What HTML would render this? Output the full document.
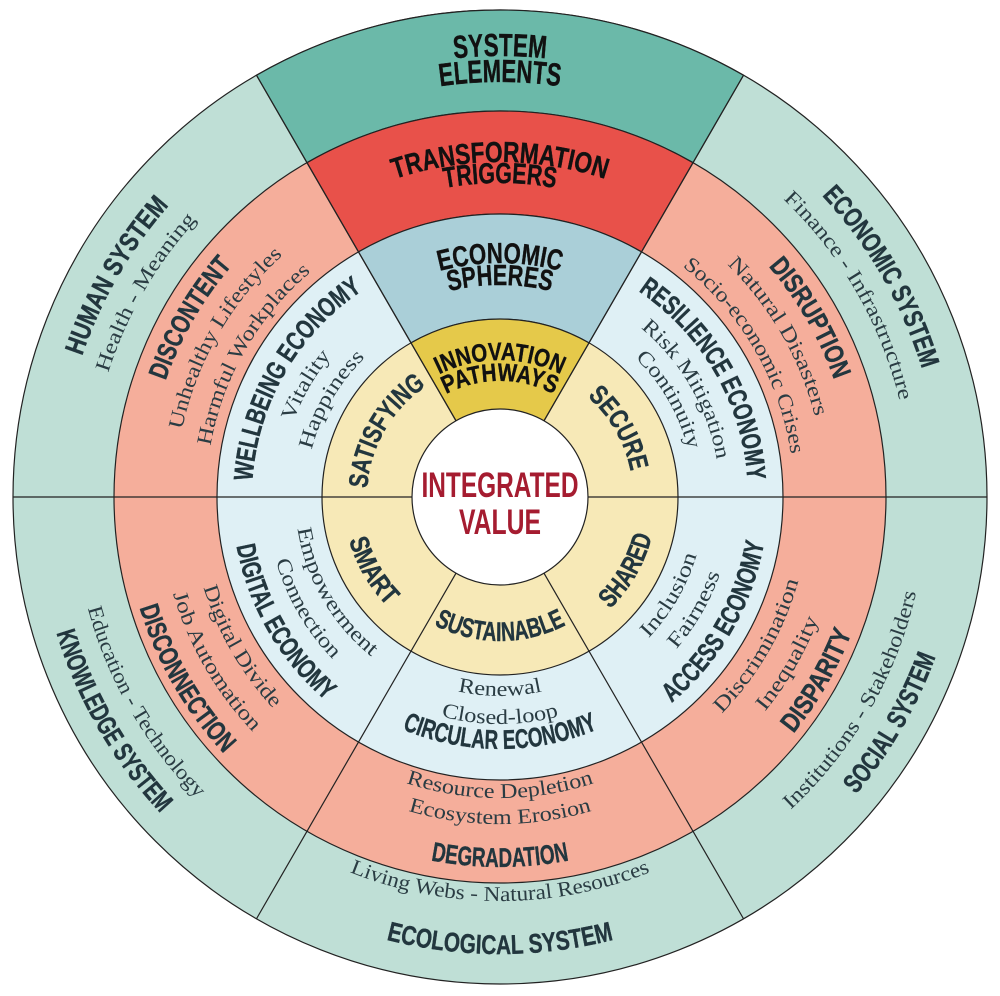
<!DOCTYPE html>
<html><head><meta charset="utf-8">
<style>
html,body{margin:0;padding:0;background:#fff;width:1000px;height:996px;overflow:hidden}
svg{display:block}
.t{font-family:"Liberation Sans Narrow","Liberation Sans",sans-serif;font-weight:bold;fill:#22363e;font-size:27px;stroke:#22363e;stroke-width:0.4}
.k{fill:#111;stroke:#111}
.s{font-family:"Liberation Serif",serif;fill:#2a3c43;font-size:21px}
.c{font-family:"Liberation Sans Narrow","Liberation Sans",sans-serif;font-weight:bold;fill:#a51c30;font-size:35px}
</style></head><body>
<svg width="1000" height="996" viewBox="0 0 1000 996" xmlns="http://www.w3.org/2000/svg">
<defs>
<path id="a1" d="M118.1,276.5 A441,441 0 0 1 881.9,276.5"/>
<path id="a2" d="M140.6,289.5 A415,415 0 0 1 859.4,289.5"/>
<path id="a3" d="M209.9,329.5 A335,335 0 0 1 790.1,329.5"/>
<path id="a4" d="M228.1,340 A314,314 0 0 1 771.9,340"/>
<path id="a5" d="M297.4,380 A234,234 0 0 1 702.6,380"/>
<path id="a6" d="M316.4,391 A212,212 0 0 1 683.6,391"/>
<path id="a7" d="M381.4,428.5 A137,137 0 0 1 618.6,428.5"/>
<path id="a8" d="M399.5,439 A116,116 0 0 1 600.5,439"/>
<path id="l1" d="M118.1,717.5 A441,441 0 0 1 500,56"/>
<path id="l2" d="M144.1,702.5 A411,411 0 0 1 500,86"/>
<path id="l3" d="M193.4,674 A354,354 0 0 1 500,143"/>
<path id="l4" d="M218.5,659.5 A325,325 0 0 1 500,172"/>
<path id="l5" d="M245.4,644 A294,294 0 0 1 500,203"/>
<path id="l6" d="M285.2,621 A248,248 0 0 1 500,249"/>
<path id="l7" d="M309.5,607 A220,220 0 0 1 500,277"/>
<path id="l8" d="M332,594 A194,194 0 0 1 500,303"/>
<path id="l9" d="M384.8,563.5 A133,133 0 0 1 500,364"/>
<path id="r1" d="M500,56 A441,441 0 0 1 881.9,717.5"/>
<path id="r2" d="M500,86 A411,411 0 0 1 855.9,702.5"/>
<path id="r3" d="M500,143 A354,354 0 0 1 806.6,674"/>
<path id="r4" d="M500,172 A325,325 0 0 1 781.5,659.5"/>
<path id="r5" d="M500,203 A294,294 0 0 1 754.6,644"/>
<path id="r6" d="M500,249 A248,248 0 0 1 714.8,621"/>
<path id="r7" d="M500,277 A220,220 0 0 1 690.5,607"/>
<path id="r8" d="M500,303 A194,194 0 0 1 668,594"/>
<path id="r9" d="M500,364 A133,133 0 0 1 615.2,563.5"/>
<path id="m1" d="M98.2,265 A464,464 0 0 0 500,961"/>
<path id="m2" d="M130.2,283.5 A427,427 0 0 0 500,924"/>
<path id="m3" d="M173.5,308.5 A377,377 0 0 0 500,874"/>
<path id="m4" d="M204.7,326.5 A341,341 0 0 0 500,838"/>
<path id="m5" d="M231.5,342 A310,310 0 0 0 500,807"/>
<path id="m6" d="M267.9,363 A268,268 0 0 0 500,765"/>
<path id="m7" d="M298.2,380.5 A233,233 0 0 0 500,730"/>
<path id="m8" d="M322.5,394.5 A205,205 0 0 0 500,702"/>
<path id="m9" d="M364,418.5 A157,157 0 0 0 500,654"/>
<path id="n1" d="M500,961 A464,464 0 0 0 901.8,265"/>
<path id="n2" d="M500,924 A427,427 0 0 0 869.8,283.5"/>
<path id="n3" d="M500,874 A377,377 0 0 0 826.5,308.5"/>
<path id="n4" d="M500,838 A341,341 0 0 0 795.3,326.5"/>
<path id="n5" d="M500,807 A310,310 0 0 0 768.5,342"/>
<path id="n6" d="M500,765 A268,268 0 0 0 732.1,363"/>
<path id="n7" d="M500,730 A233,233 0 0 0 701.8,380.5"/>
<path id="n8" d="M500,702 A205,205 0 0 0 677.5,394.5"/>
<path id="n9" d="M500,654 A157,157 0 0 0 636,418.5"/>
<path id="b1" d="M104.2,725.5 A457,457 0 0 0 895.8,725.5"/>
<path id="b2" d="M150.1,699 A404,404 0 0 0 849.9,699"/>
<path id="b3" d="M179.6,682 A370,370 0 0 0 820.4,682"/>
<path id="b4" d="M216.8,660.5 A327,327 0 0 0 783.2,660.5"/>
<path id="b5" d="M239.3,647.5 A301,301 0 0 0 760.7,647.5"/>
<path id="b6" d="M281.8,623 A252,252 0 0 0 718.2,623"/>
<path id="b7" d="M303.4,610.5 A227,227 0 0 0 696.6,610.5"/>
<path id="b8" d="M327.7,596.5 A199,199 0 0 0 672.3,596.5"/>
<path id="b9" d="M375.3,569 A144,144 0 0 0 624.7,569"/>
</defs>

<g stroke="#222" stroke-width="1.2">
<circle cx="500" cy="497" r="487" fill="#bfdfd6"/>
<path d="M500,497 L256.5,75.25 A487,487 0 0 1 743.5,75.25 Z" fill="#6bb9a9"/>
<circle cx="500" cy="497" r="386" fill="#f5ae9b"/>
<path d="M500,497 L307,162.7 A386,386 0 0 1 693,162.7 Z" fill="#e8514a"/>
<circle cx="500" cy="497" r="283" fill="#dff0f5"/>
<path d="M500,497 L358.5,251.9 A283,283 0 0 1 641.5,251.9 Z" fill="#aacfd8"/>
<circle cx="500" cy="497" r="178" fill="#f7e9b7"/>
<path d="M500,497 L411,342.9 A178,178 0 0 1 589,342.9 Z" fill="#e5c94a"/>
<circle cx="500" cy="497" r="88" fill="#fff"/>
<line x1="544" y1="420.8" x2="743.5" y2="75.25"/>
<line x1="456" y1="420.8" x2="256.5" y2="75.25"/>
<line x1="588" y1="497" x2="987" y2="497"/>
<line x1="412" y1="497" x2="13" y2="497"/>
<line x1="544" y1="573.2" x2="743.5" y2="918.75"/>
<line x1="456" y1="573.2" x2="256.5" y2="918.75"/>
</g>

<g text-anchor="middle">
<text class="t k" style="font-size:32px"><textPath href="#a1" startOffset="50%" textLength="92" lengthAdjust="spacingAndGlyphs">SYSTEM</textPath></text>
<text class="t k" style="font-size:32px"><textPath href="#a2" startOffset="50%" textLength="120" lengthAdjust="spacingAndGlyphs">ELEMENTS</textPath></text>
<text class="t k" style="font-size:29px"><textPath href="#a3" startOffset="50%" textLength="214" lengthAdjust="spacingAndGlyphs">TRANSFORMATION</textPath></text>
<text class="t k" style="font-size:29px"><textPath href="#a4" startOffset="50%" textLength="111" lengthAdjust="spacingAndGlyphs">TRIGGERS</textPath></text>
<text class="t k" style="font-size:29px"><textPath href="#a5" startOffset="50%" textLength="122" lengthAdjust="spacingAndGlyphs">ECONOMIC</textPath></text>
<text class="t k" style="font-size:29px"><textPath href="#a6" startOffset="50%" textLength="103" lengthAdjust="spacingAndGlyphs">SPHERES</textPath></text>
<text class="t k" style="font-size:25px"><textPath href="#a7" startOffset="50%" textLength="126" lengthAdjust="spacingAndGlyphs">INNOVATION</textPath></text>
<text class="t k" style="font-size:25px"><textPath href="#a8" startOffset="50%" textLength="112" lengthAdjust="spacingAndGlyphs">PATHWAYS</textPath></text>

<text class="t"><textPath href="#l1" startOffset="50%" textLength="175" lengthAdjust="spacingAndGlyphs">HUMAN SYSTEM</textPath></text>
<text class="s"><textPath href="#l2" startOffset="50%" textLength="178" lengthAdjust="spacingAndGlyphs">Health - Meaning</textPath></text>
<text class="t"><textPath href="#l3" startOffset="50%" textLength="134" lengthAdjust="spacingAndGlyphs">DISCONTENT</textPath></text>
<text class="s"><textPath href="#l4" startOffset="50%" textLength="205" lengthAdjust="spacingAndGlyphs">Unhealthy Lifestyles</textPath></text>
<text class="s"><textPath href="#l5" startOffset="50%" textLength="205" lengthAdjust="spacingAndGlyphs">Harmful Workplaces</textPath></text>
<text class="t"><textPath href="#l6" startOffset="50%" textLength="228" lengthAdjust="spacingAndGlyphs">WELLBEING ECONOMY</textPath></text>
<text class="s"><textPath href="#l7" startOffset="50%" textLength="76" lengthAdjust="spacingAndGlyphs">Vitality</textPath></text>
<text class="s"><textPath href="#l8" startOffset="50%" textLength="108" lengthAdjust="spacingAndGlyphs">Happiness</textPath></text>
<text class="t"><textPath href="#l9" startOffset="50%" textLength="122" lengthAdjust="spacingAndGlyphs">SATISFYING</textPath></text>

<text class="t"><textPath href="#r1" startOffset="50%" textLength="202" lengthAdjust="spacingAndGlyphs">ECONOMIC SYSTEM</textPath></text>
<text class="s"><textPath href="#r2" startOffset="50%" textLength="236" lengthAdjust="spacingAndGlyphs">Finance - Infrastructure</textPath></text>
<text class="t"><textPath href="#r3" startOffset="50%" textLength="132" lengthAdjust="spacingAndGlyphs">DISRUPTION</textPath></text>
<text class="s"><textPath href="#r4" startOffset="50%" textLength="178" lengthAdjust="spacingAndGlyphs">Natural Disasters</textPath></text>
<text class="s"><textPath href="#r5" startOffset="50%" textLength="222" lengthAdjust="spacingAndGlyphs">Socio-economic Crises</textPath></text>
<text class="t"><textPath href="#r6" startOffset="50%" textLength="226" lengthAdjust="spacingAndGlyphs">RESILIENCE ECONOMY</textPath></text>
<text class="s"><textPath href="#r7" startOffset="50%" textLength="155" lengthAdjust="spacingAndGlyphs">Risk Mitigation</textPath></text>
<text class="s"><textPath href="#r8" startOffset="50%" textLength="107" lengthAdjust="spacingAndGlyphs">Continuity</textPath></text>
<text class="t"><textPath href="#r9" startOffset="50%" textLength="88" lengthAdjust="spacingAndGlyphs">SECURE</textPath></text>

<text class="t"><textPath href="#m1" startOffset="50%" textLength="210" lengthAdjust="spacingAndGlyphs">KNOWLEDGE SYSTEM</textPath></text>
<text class="s"><textPath href="#m2" startOffset="50%" textLength="222" lengthAdjust="spacingAndGlyphs">Education - Technology</textPath></text>
<text class="t"><textPath href="#m3" startOffset="50%" textLength="170" lengthAdjust="spacingAndGlyphs">DISCONNECTION</textPath></text>
<text class="s"><textPath href="#m4" startOffset="50%" textLength="161" lengthAdjust="spacingAndGlyphs">Job Automation</textPath></text>
<text class="s"><textPath href="#m5" startOffset="50%" textLength="141" lengthAdjust="spacingAndGlyphs">Digital Divide</textPath></text>
<text class="t"><textPath href="#m6" startOffset="50%" textLength="182" lengthAdjust="spacingAndGlyphs">DIGITAL ECONOMY</textPath></text>
<text class="s"><textPath href="#m7" startOffset="50%" textLength="115" lengthAdjust="spacingAndGlyphs">Connection</textPath></text>
<text class="s"><textPath href="#m8" startOffset="50%" textLength="151" lengthAdjust="spacingAndGlyphs">Empowerment</textPath></text>
<text class="t"><textPath href="#m9" startOffset="50%" textLength="77" lengthAdjust="spacingAndGlyphs">SMART</textPath></text>

<text class="t"><textPath href="#n1" startOffset="50%" textLength="160" lengthAdjust="spacingAndGlyphs">SOCIAL SYSTEM</textPath></text>
<text class="s"><textPath href="#n2" startOffset="50%" textLength="255" lengthAdjust="spacingAndGlyphs">Institutions - Stakeholders</textPath></text>
<text class="t"><textPath href="#n3" startOffset="50%" textLength="117" lengthAdjust="spacingAndGlyphs">DISPARITY</textPath></text>
<text class="s"><textPath href="#n4" startOffset="50%" textLength="107" lengthAdjust="spacingAndGlyphs">Inequality</textPath></text>
<text class="s"><textPath href="#n5" startOffset="50%" textLength="155" lengthAdjust="spacingAndGlyphs">Discrimination</textPath></text>
<text class="t"><textPath href="#n6" startOffset="50%" textLength="189" lengthAdjust="spacingAndGlyphs">ACCESS ECONOMY</textPath></text>
<text class="s"><textPath href="#n7" startOffset="50%" textLength="88" lengthAdjust="spacingAndGlyphs">Fairness</textPath></text>
<text class="s"><textPath href="#n8" startOffset="50%" textLength="97" lengthAdjust="spacingAndGlyphs">Inclusion</textPath></text>
<text class="t"><textPath href="#n9" startOffset="50%" textLength="85" lengthAdjust="spacingAndGlyphs">SHARED</textPath></text>

<text class="t"><textPath href="#b1" startOffset="50%" textLength="230" lengthAdjust="spacingAndGlyphs">ECOLOGICAL SYSTEM</textPath></text>
<text class="s"><textPath href="#b2" startOffset="50%" textLength="308" lengthAdjust="spacingAndGlyphs">Living Webs - Natural Resources</textPath></text>
<text class="t"><textPath href="#b3" startOffset="50%" textLength="139" lengthAdjust="spacingAndGlyphs">DEGRADATION</textPath></text>
<text class="s"><textPath href="#b4" startOffset="50%" textLength="186" lengthAdjust="spacingAndGlyphs">Ecosystem Erosion</textPath></text>
<text class="s"><textPath href="#b5" startOffset="50%" textLength="191" lengthAdjust="spacingAndGlyphs">Resource Depletion</textPath></text>
<text class="t"><textPath href="#b6" startOffset="50%" textLength="201" lengthAdjust="spacingAndGlyphs">CIRCULAR ECONOMY</textPath></text>
<text class="s"><textPath href="#b7" startOffset="50%" textLength="119" lengthAdjust="spacingAndGlyphs">Closed-loop</textPath></text>
<text class="s"><textPath href="#b8" startOffset="50%" textLength="85" lengthAdjust="spacingAndGlyphs">Renewal</textPath></text>
<text class="t"><textPath href="#b9" startOffset="50%" textLength="137" lengthAdjust="spacingAndGlyphs">SUSTAINABLE</textPath></text>

<text class="c" x="500" y="497" textLength="157" lengthAdjust="spacingAndGlyphs">INTEGRATED</text>
<text class="c" x="500" y="534" textLength="82" lengthAdjust="spacingAndGlyphs">VALUE</text>
</g>
</svg>
</body></html>
